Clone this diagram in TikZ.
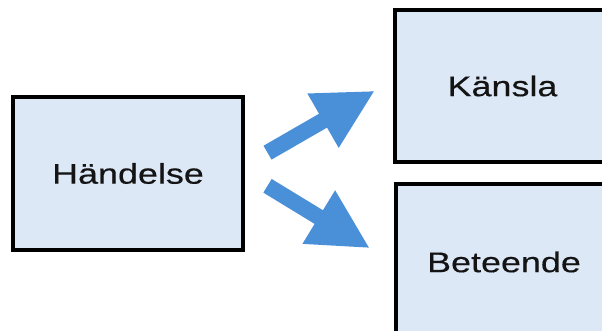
\documentclass[tikz,border=0pt]{standalone}
\usepackage{fontspec}
\newfontfamily\labfont[FakeStretch=1.26,FakeBold=0.4]{Liberation Sans}
\usetikzlibrary{arrows.meta}
\definecolor{boxfill}{RGB}{220,232,245}
\definecolor{arrowblue}{RGB}{74,144,217}
\definecolor{textcol}{RGB}{20,20,20}
\begin{document}
\begin{tikzpicture}[x=1pt,y=-1pt,
  box/.style={draw=black, line width=3.5pt, fill=boxfill, text=textcol,
    font=\labfont\fontsize{28.5pt}{32pt}\selectfont, inner sep=0pt},
  bigarrow/.style={draw=arrowblue, line width=16pt,
    -{Triangle[width=58pt,length=60pt]}}]
\useasboundingbox (0,0) rectangle (602,331);
\clip (0,0) rectangle (602,331);
\fill[white] (0,0) rectangle (602,331);
\node[box, minimum width=230pt, minimum height=153pt] (h) at (128,173.5) {Händelse};
\node[box, minimum width=215pt, minimum height=152pt] (k) at (502.5,86) {Känsla};
\node[box, minimum width=216pt, minimum height=156pt] (b) at (504,262) {Beteende};
\coordinate (u1) at (267.5,152.7);
\coordinate (u2) at (375,90.7);
\coordinate (d1) at (267.5,185.8);
\coordinate (d2) at (370,248.3);
\draw[bigarrow] (u1) -- (u2);
\draw[bigarrow] (d1) -- (d2);
\end{tikzpicture}
\end{document}
